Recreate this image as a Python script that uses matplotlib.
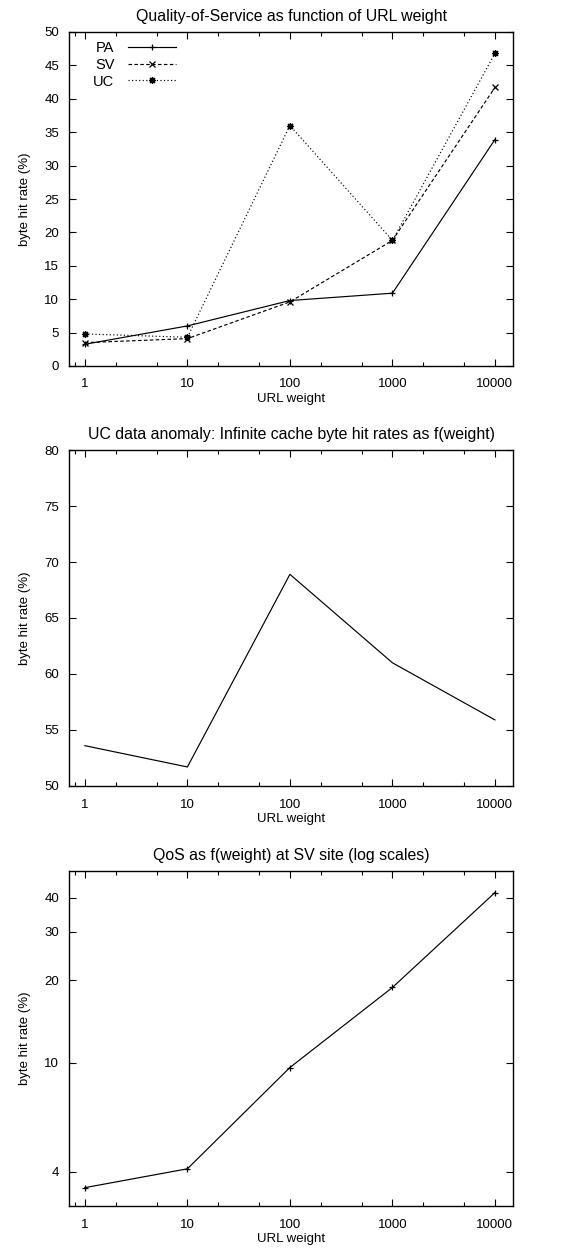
import matplotlib
matplotlib.use("Agg")
import matplotlib.pyplot as plt
from matplotlib.ticker import FixedLocator, NullLocator, FixedFormatter

plt.rcParams['font.family'] = ['Liberation Sans', 'DejaVu Sans']
plt.rcParams['font.size'] = 9.5

weights = [1, 10, 100, 1000, 10000]
xtick_labels = ['1', '10', '100', '1000', '10000']

pa = [3.25, 6.0, 9.8, 10.9, 33.9]
sv = [3.5, 4.1, 9.6, 18.8, 41.7]
uc = [4.8, 4.3, 36.0, 18.8, 46.8]

uc_infinite = [53.6, 51.7, 68.9, 61.0, 55.9]

sv_log = [3.5, 4.1, 9.6, 18.8, 41.7]

W, H = 587, 1250
fig = plt.figure(figsize=(W / 100, H / 100), dpi=100)

def add_ax(top, bottom, left=69, right=513):
    return fig.add_axes([left / W, 1 - bottom / H, (right - left) / W, (bottom - top) / H])

minor_x = [0.8, 2, 5, 20, 50, 200, 500, 2000, 5000]

def style_x(ax):
    ax.set_xscale('log')
    ax.set_xlim(0.7, 15000)
    ax.xaxis.set_major_locator(FixedLocator(weights))
    ax.xaxis.set_major_formatter(FixedFormatter(xtick_labels))
    ax.xaxis.set_minor_locator(FixedLocator(minor_x))
    ax.xaxis.set_minor_formatter(FixedFormatter([''] * len(minor_x)))
    ax.tick_params(axis='both', which='major', direction='in', length=5, width=0.8,
                   top=True, right=True)
    ax.tick_params(axis='x', which='major', pad=9)
    ax.tick_params(axis='y', which='major', pad=7)
    ax.tick_params(axis='x', which='minor', direction='in', length=3, width=0.8,
                   top=True, bottom=True)
    ax.set_xlabel('URL weight', labelpad=2)
    ax.set_ylabel('byte hit rate (%)', labelpad=10)
    for s in ax.spines.values():
        s.set_linewidth(1.0)

lw = 0.85

# Panel 1
ax1 = add_ax(32, 366)
ax1.plot(weights, pa, color='black', lw=lw, ls='-', marker='+', ms=5, mew=0.9, label='PA')
ax1.plot(weights, sv, color='black', lw=lw, ls=(0, (3, 2)), marker='x', ms=4, mew=0.9, label='SV')
ax1.plot(weights, uc, color='black', lw=lw, ls=(0, (1, 2)), marker=(8, 2, 0), ms=5, mew=0.9, label='UC')
style_x(ax1)
ax1.set_ylim(0, 50)
ax1.yaxis.set_major_locator(FixedLocator(range(0, 51, 5)))
ax1.set_title('Quality-of-Service as function of URL weight', pad=8)
ax1.legend(loc='upper left', frameon=False, markerfirst=False, handlelength=3.3,
           handletextpad=0.9, labelspacing=0.2, borderaxespad=0.2,
           bbox_to_anchor=(0.035, 1.0), fontsize=10.5)

# Panel 2
ax2 = add_ax(450, 786)
ax2.plot(weights, uc_infinite, color='black', lw=lw)
style_x(ax2)
ax2.set_ylim(50, 80)
ax2.yaxis.set_major_locator(FixedLocator(range(50, 81, 5)))
ax2.set_title('UC data anomaly: Infinite cache byte hit rates as f(weight)', pad=8)

# Panel 3
ax3 = add_ax(871, 1206)
ax3.plot(weights, sv_log, color='black', lw=lw, marker='+', ms=5, mew=0.9)
style_x(ax3)
ax3.set_yscale('log')
ax3.set_ylim(3, 50)
yt = [4, 10, 20, 30, 40]
ax3.yaxis.set_major_locator(FixedLocator(yt))
ax3.yaxis.set_major_formatter(FixedFormatter([str(v) for v in yt]))
ax3.yaxis.set_minor_locator(NullLocator())
ax3.tick_params(axis='y', which='major', direction='in', length=5, right=True)
ax3.set_title('QoS as f(weight) at SV site (log scales)', pad=8)

fig.savefig('out.png', dpi=100)
